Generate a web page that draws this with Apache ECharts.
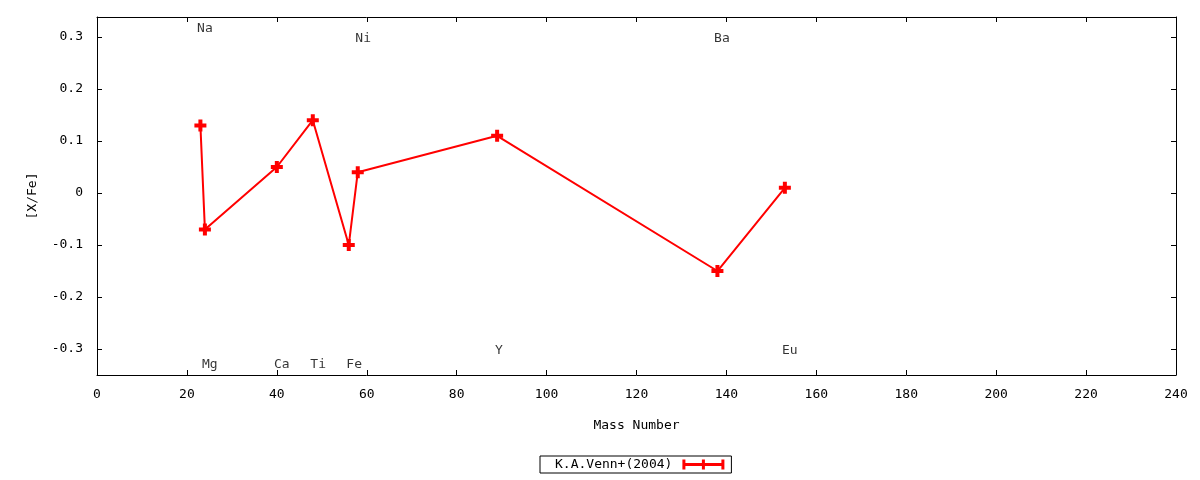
<!DOCTYPE html>
<html>
<head>
<meta charset="utf-8">
<script src="https://cdn.jsdelivr.net/npm/echarts@6/dist/echarts.min.js"></script>
<style>
  html, body { margin: 0; padding: 0; background: #fff; }
  #chart { width: 1200px; height: 480px; }
</style>
</head>
<body>
<div id="chart"></div>
<script>
"use strict";
// K.A.Venn+(2004) abundances
const massNumbers = [23, 24, 40, 48, 56, 58, 89, 138, 153];
const xFe = [0.13, -0.07, 0.05, 0.14, -0.10, 0.04, 0.11, -0.15, 0.01];

// element labels: name, x, y (data coords)
const labelNames = ['Na', 'Mg', 'Ca', 'Ti', 'Fe', 'Ni', 'Y', 'Ba', 'Eu'];
const labelX = [24.0, 25.1, 41.1, 49.2, 57.2, 59.2, 89.4, 139.0, 154.1];
const labelY = [0.32, -0.327, -0.327, -0.327, -0.327, 0.30, -0.30, 0.30, -0.30];

const yTicks = [-0.3, -0.2, -0.1, 0, 0.1, 0.2, 0.3];

const font = 'DejaVu Sans Mono';
const plusSymbol = 'path://M4,0h4v4h4v4h-4v4h-4v-4h-4v-4h4z';
const legendIcon = 'path://M0,0h3v10h-3z M19.5,0h3v10h-3z M39,0h3v10h-3z M0,3.5h42v3h-42z';

const container = document.getElementById('chart');
const myChart = echarts.init(container);

const axisCommon = {
    axisLine: { show: true, onZero: false, lineStyle: { color: '#000', width: 1 } },
    axisTick: { show: true, inside: true, length: 5, lineStyle: { color: '#000' } },
    splitLine: { show: false }
};

const option = {
    animation: false,
    backgroundColor: '#fff',
    textStyle: { fontFamily: font },
    grid: { left: 97, right: 24, top: 17, bottom: 105 },
    legend: {
        left: 540,
        top: 456,
        align: 'right',
        orient: 'horizontal',
        borderColor: '#000',
        borderWidth: 1,
        borderRadius: 0,
        padding: [2, 7, 2, 15],
        itemWidth: 42,
        itemHeight: 10,
        textStyle: { fontFamily: font, fontSize: 13, color: '#000', padding: [0, 5, 0, 0] },
        data: [{ name: 'K.A.Venn+(2004)', icon: legendIcon }]
    },
    xAxis: [
        Object.assign({}, axisCommon, {
            type: 'value',
            min: 0, max: 240, interval: 20,
            position: 'bottom',
            name: 'Mass Number',
            nameLocation: 'middle',
            nameGap: 44,
            nameTextStyle: { fontFamily: font, fontSize: 13, color: '#000' },
            axisLabel: { fontFamily: font, fontSize: 13, color: '#000', margin: 13 }
        }),
        Object.assign({}, axisCommon, {
            type: 'value',
            min: 0, max: 240, interval: 20,
            position: 'top',
            axisLabel: { show: false }
        })
    ],
    yAxis: [
        Object.assign({}, axisCommon, {
            type: 'value',
            min: -0.35, max: 0.3385,
            position: 'left',
            name: '[X/Fe]',
            nameLocation: 'middle',
            nameGap: 58,
            nameRotate: 90,
            nameTextStyle: { fontFamily: font, fontSize: 13, color: '#000' },
            axisTick: Object.assign({}, axisCommon.axisTick, { customValues: yTicks }),
            axisLabel: {
                fontFamily: font, fontSize: 13, color: '#000', margin: 14,
                padding: [4, 0, 0, 0], customValues: yTicks
            }
        }),
        Object.assign({}, axisCommon, {
            type: 'value',
            min: -0.35, max: 0.3385,
            position: 'right',
            axisTick: Object.assign({}, axisCommon.axisTick, { customValues: yTicks }),
            axisLabel: { show: false, customValues: yTicks }
        })
    ],
    series: [
        {
            name: 'K.A.Venn+(2004)',
            type: 'line',
            data: massNumbers.map((m, i) => [m, xFe[i]]),
            symbol: plusSymbol,
            symbolSize: 12,
            showAllSymbol: true,
            lineStyle: { color: '#ff0000', width: 2 },
            itemStyle: { color: '#ff0000' },
            z: 3
        },
        {
            name: 'labels',
            type: 'scatter',
            data: labelNames.map((n, i) => [labelX[i], labelY[i], n]),
            symbolSize: 0,
            itemStyle: { color: 'transparent' },
            silent: true,
            label: {
                show: true,
                position: 'inside',
                offset: [0, 2],
                formatter: p => p.data[2],
                fontFamily: font,
                fontSize: 13,
                color: '#000'
            },
            z: 4
        }
    ]
};

myChart.setOption(option);
</script>
</body>
</html>
